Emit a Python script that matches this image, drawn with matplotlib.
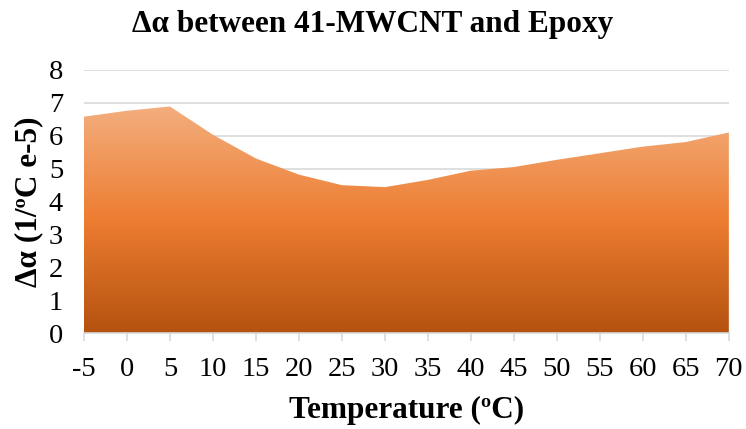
import numpy as np
import matplotlib.pyplot as plt
from matplotlib.colors import LinearSegmentedColormap

temps = [-5, 0, 5, 10, 15, 20, 25, 30, 35, 40, 45, 50, 55, 60, 65, 70]
dalpha = [6.58, 6.76, 6.89, 6.03, 5.31, 4.82, 4.50, 4.44, 4.66, 4.94,
          5.05, 5.27, 5.47, 5.67, 5.81, 6.10]
xlabels = [str(t) for t in temps]

plt.rcParams['font.family'] = ['Liberation Serif', 'DejaVu Serif']

fig = plt.figure(figsize=(7.46, 4.29), dpi=100)
ax = fig.add_axes([0.1126, 0.223, 0.8644, 0.614])

x = np.arange(len(temps))
poly = ax.fill_between(x, 0, dalpha, color='none', lw=0, zorder=2)

# orange gradient, light on top, dark at the bottom
cmap = LinearSegmentedColormap.from_list(
    'orng', ['#b4520f', '#ed7d31', '#f3ae7e'])
top = max(dalpha)
grad = np.linspace(0, 1, 256).reshape(-1, 1)
img = ax.imshow(grad, cmap=cmap, origin='lower', aspect='auto',
                extent=[x[0], x[-1], 0, top], zorder=2)
img.set_clip_path(poly.get_paths()[0], transform=ax.transData)

ax.set_xlim(x[0], x[-1])
ax.set_ylim(0, 8)
ax.set_yticks(range(0, 9))
ax.set_xticks(x)
ax.set_xticklabels(xlabels)
ax.grid(axis='y', color='#d9d9d9', lw=1.2, zorder=1)
ax.set_axisbelow(True)
for s in ['top', 'right', 'left']:
    ax.spines[s].set_visible(False)
ax.spines['bottom'].set_color('#d9d9d9')
ax.spines['bottom'].set_linewidth(1.2)
ax.tick_params(axis='x', colors='#d9d9d9', length=6, width=1.2,
               labelcolor='black', labelsize=20.5, pad=11)
ax.tick_params(axis='y', length=0, labelsize=20.5, pad=15)
ax.set_xlabel('Temperature (ºC)', fontsize=22.5, fontweight='bold', labelpad=10)
ax.set_ylabel('Δα (1/ºC e-5)', fontsize=22.5, fontweight='bold', labelpad=4)

fig.text(0.5, 0.943, 'Δα between 41-MWCNT and Epoxy', ha='center', va='center',
         fontsize=22.5, fontweight='bold')

fig.savefig('out.png', dpi=100)
